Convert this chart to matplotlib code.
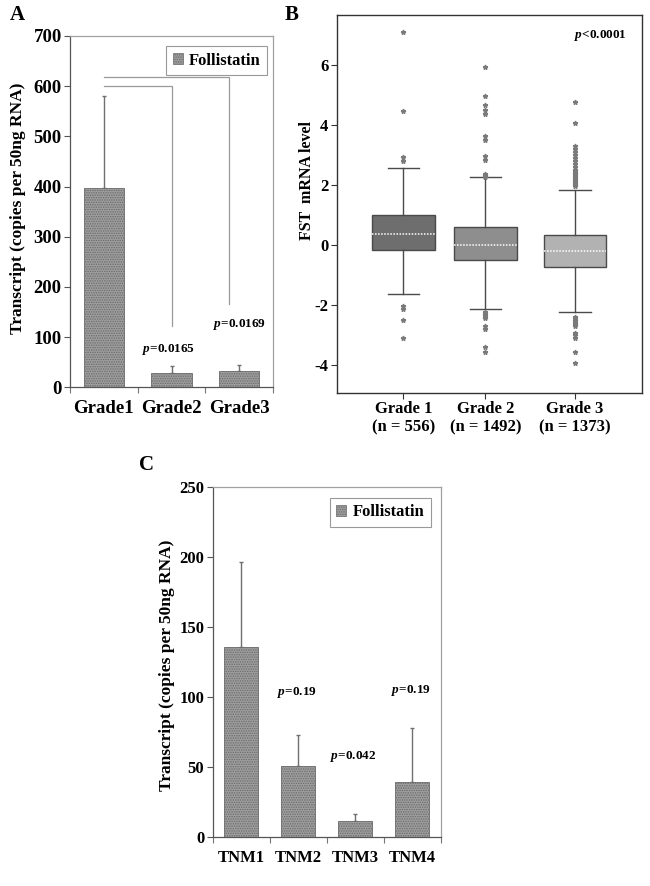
import matplotlib
matplotlib.use("Agg")
import matplotlib.pyplot as plt
from matplotlib.patches import Patch

plt.rcParams['font.family'] = ['Liberation Serif', 'DejaVu Serif']
plt.rcParams['font.weight'] = 'bold'
plt.rcParams['axes.labelweight'] = 'bold'
plt.rcParams['axes.unicode_minus'] = False
plt.rcParams['mathtext.fontset'] = 'custom'
plt.rcParams['mathtext.rm'] = 'Liberation Serif:bold'
plt.rcParams['mathtext.it'] = 'Liberation Serif:italic:bold'
plt.rcParams['mathtext.bfit'] = 'Liberation Serif:italic:bold'
plt.rcParams['hatch.linewidth'] = 0.7
plt.rcParams['hatch.color'] = '#4a4a4a'

# ---- panel A data ----
grades = ['Grade1', 'Grade2', 'Grade3']
grade_mean = [397, 29, 33]
grade_err = [184, 14, 12]
grade_p = ['0.0165', '0.0169']
grade_p_y = [75, 125]
bracket_top = [600, 619]
bracket_end = [122, 166]

# ---- panel B data ----
box_labels = ['Grade 1\n(n = 556)', 'Grade 2\n(n = 1492)', 'Grade 3\n(n = 1373)']
box_med = [0.37, 0.0, -0.2]
box_q1 = [-0.16, -0.51, -0.73]
box_q3 = [0.98, 0.58, 0.31]
box_lo = [-1.66, -2.13, -2.26]
box_hi = [2.56, 2.26, 1.84]
fliers_g1 = [7.11, 4.46, 2.93, 2.80, -2.03, -2.14, -2.53, -3.11]
fliers_g2 = [5.94, 4.97, 4.66, 4.51, 4.36, 3.62, 3.49, 2.95, 2.84, 2.37, 2.33,
             2.29, 2.27, -2.25, -2.3, -2.35, -2.4, -2.45, -2.7, -2.8, -3.4, -3.59]
fliers_g3 = [4.77, 4.07, 3.3, 3.2, 3.1, 3.0, 2.9, 2.8, 2.7, 2.6, 2.5, 2.45, 2.4,
             2.35, 2.3, 2.25, 2.2, 2.15, 2.1, 2.05, 2.0, 1.95,
             -2.4, -2.45, -2.5, -2.55, -2.6, -2.65, -2.7, -2.95, -3.0, -3.1,
             -3.57, -3.96]
box_colors = ['#6e6e6e', '#8e8e8e', '#b2b2b2']

# ---- panel C data ----
stages = ['TNM1', 'TNM2', 'TNM3', 'TNM4']
stage_mean = [136, 51, 11.4, 39.3]
stage_err = [60, 22, 5.2, 38.3]
stage_p = ['0.19', '0.042', '0.19']
stage_p_y = [103, 57.6, 105]

BAR_FACE = '#9e9e9e'
BAR_EDGE = '#6a6a6a'
FRAME = '#a0a0a0'


def style_bar_axes(ax, n, ymax, ystep, tick_size):
    ax.set_xlim(-0.5, n - 0.5)
    ax.set_ylim(0, ymax)
    ax.set_yticks(range(0, ymax + 1, ystep))
    ax.set_xticks([i - 0.5 for i in range(n + 1)])
    ax.set_xticklabels([])
    ax.tick_params(axis='x', which='major', direction='out', length=4,
                   color='#777777')
    ax.tick_params(axis='y', direction='out', length=4, color='#555555',
                   labelsize=tick_size, pad=2)
    ax.spines['left'].set_color('#555555')
    ax.spines['bottom'].set_color('#555555')
    ax.spines['top'].set_color(FRAME)
    ax.spines['right'].set_color(FRAME)
    for s in ax.spines.values():
        s.set_linewidth(0.9)


def draw_bars(ax, labels, means, errs, label_size):
    x = list(range(len(labels)))
    ax.bar(x, means, width=0.6, color=BAR_FACE, edgecolor=BAR_EDGE,
           hatch='.......', linewidth=0.6, label='Follistatin', zorder=2)
    ax.errorbar(x, means, yerr=[[0] * len(errs), errs], fmt='none',
                ecolor='#707070', elinewidth=1.0, capsize=1.5, zorder=1)
    ax.set_xticks(x, minor=True)
    ax.set_xticklabels(labels, minor=True)
    ax.tick_params(axis='x', which='minor', length=0, labelsize=label_size,
                   pad=9)


def add_legend(ax, anchor):
    h = Patch(facecolor=BAR_FACE, edgecolor=BAR_EDGE, hatch='.......',
              linewidth=0.5)
    leg = ax.legend([h], ['Follistatin'], loc='upper right',
                    bbox_to_anchor=anchor, borderaxespad=0, fancybox=False,
                    handlelength=0.6, handleheight=0.6, handletextpad=0.35,
                    borderpad=0.4, prop={'size': 12, 'weight': 'bold'})
    leg.get_frame().set_edgecolor('#808080')
    leg.get_frame().set_linewidth(0.8)


fig = plt.figure(figsize=(6.5, 8.86), dpi=100)

# ---------------- Panel A ----------------
axA = fig.add_axes([0.1077, 0.5629, 0.3123, 0.3965])
style_bar_axes(axA, len(grades), 700, 100, 13.5)
draw_bars(axA, grades, grade_mean, grade_err, 13.5)
bx = [1.0, 1.85]
for i in range(2):
    axA.plot([0.0, bx[i], bx[i]], [bracket_top[i], bracket_top[i], bracket_end[i]],
             color='#9a9a9a', lw=0.9, zorder=1)
    axA.text(i + 1 - 0.05 * (1 - i), grade_p_y[i],
             r'$\mathbfit{p}$=' + grade_p[i], ha='center', va='center',
             fontsize=9.5)
axA.set_ylabel('Transcript (copies per 50ng RNA)', fontsize=12.5)
axA.yaxis.set_label_coords(-0.215, 0.51)
add_legend(axA, (1 - 6 / 203, 1 - 10 / 351))
fig.text(17 / 650, 1 - 15 / 886, 'A', fontsize=15, ha='center', va='center')

# ---------------- Panel B ----------------
axB = fig.add_axes([0.518, 0.5568, 0.4692, 0.4263])
pos = [0.765, 1.705, 2.735]
fliers = [fliers_g1, fliers_g2, fliers_g3]
stats = []
for i in range(3):
    stats.append({'med': box_med[i], 'q1': box_q1[i], 'q3': box_q3[i],
                  'whislo': box_lo[i], 'whishi': box_hi[i],
                  'fliers': fliers[i]})
bp = axB.bxp(stats, positions=pos, widths=0.72, patch_artist=True,
             showfliers=True,
             boxprops={'edgecolor': '#4a4a4a', 'linewidth': 1.0},
             whiskerprops={'color': '#4a4a4a', 'linewidth': 1.0},
             capprops={'color': '#4a4a4a', 'linewidth': 1.0},
             medianprops={'color': 'white', 'linewidth': 1.1,
                          'linestyle': (0, (1.0, 1.0))},
             flierprops={'marker': '*', 'markersize': 3.5,
                         'markerfacecolor': '#7a7a7a',
                         'markeredgecolor': '#7a7a7a', 'linestyle': 'none'})
for patch, c in zip(bp['boxes'], box_colors):
    patch.set_facecolor(c)
for cap in bp['caps']:
    x0, x1 = cap.get_xdata()
    mid = (x0 + x1) / 2
    cap.set_xdata([mid - 0.18, mid + 0.18])
axB.set_xlim(0, 3.5)
axB.set_ylim(-4.94, 7.67)
axB.set_yticks([-4, -2, 0, 2, 4, 6])
axB.set_xticks(pos)
axB.set_xticklabels(box_labels)
axB.tick_params(axis='x', direction='out', length=4, color='#333333',
                labelsize=12, pad=2)
axB.tick_params(axis='y', direction='out', length=4, color='#333333',
                labelsize=12, pad=2)
for s in axB.spines.values():
    s.set_color('#333333')
    s.set_linewidth(1.0)
axB.set_ylabel('FST  mRNA level', fontsize=11.5)
axB.yaxis.set_label_coords(-0.071, 0.563)
axB.text(0.95, 0.945, r'$\mathbfit{p}$<0.0001', transform=axB.transAxes,
         ha='right', va='center', fontsize=9.5)
fig.text(292 / 650, 1 - 15 / 886, 'B', fontsize=15, ha='center', va='center')

# ---------------- Panel C ----------------
axC = fig.add_axes([0.3272, 0.055, 0.3508, 0.3957])
style_bar_axes(axC, len(stages), 250, 50, 12)
draw_bars(axC, stages, stage_mean, stage_err, 12)
p_x = [1, 2, 3]
for i in range(3):
    axC.text(p_x[i] - 0.03, stage_p_y[i], r'$\mathbfit{p}$=' + stage_p[i],
             ha='center', va='center', fontsize=9.5)
axC.set_ylabel('Transcript (copies per 50ng RNA)', fontsize=12.5)
axC.yaxis.set_label_coords(-0.165, 0.49)
add_legend(axC, (1 - 10 / 228, 1 - 11 / 351))
fig.text(147 / 650, 1 - 465 / 886, 'C', fontsize=15, ha='center', va='center')

fig.savefig('out.png', dpi=100)
